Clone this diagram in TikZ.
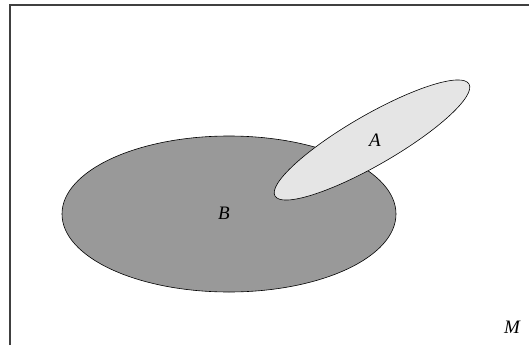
\documentclass[tikz,border=0pt]{standalone}
\usepackage{fontspec}
\setmainfont{Liberation Serif}
\usepackage{tikz}

\begin{document}
\begin{tikzpicture}[
  x=1pt, y=-1pt,
  setlabel/.style={font=\fontsize{19}{22}\selectfont\itshape, inner sep=0pt},
  frame/.style={draw=black!75, line width=1.2pt},
  bigset/.style={draw=black, line width=0.6pt, fill=gray!80},
  smallset/.style={draw=black, line width=0.6pt, fill=gray!20},
]
\useasboundingbox (0,0) rectangle (529,345);
\draw[frame] (10,345) |- (529,5);

\draw[bigset] (229,214) ellipse [x radius=167pt, y radius=78pt];
\draw[smallset, rotate around={30:(372,140)}] (372,140) ellipse [x radius=112pt, y radius=25pt];

\node[setlabel] (b) at (224,213) {B};
\node[setlabel] (a) at (375,140) {A};
\node[setlabel] (m) at (512,327) {M};
\end{tikzpicture}
\end{document}
